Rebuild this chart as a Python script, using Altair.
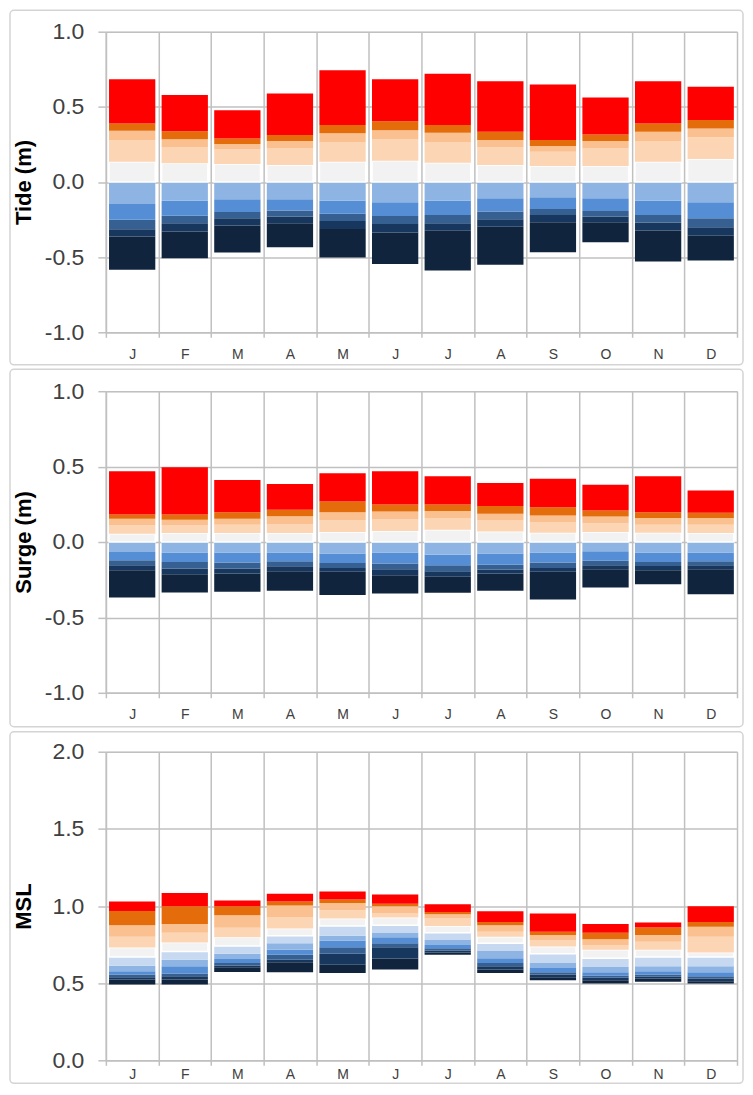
import altair as alt
import pandas as pd

MONTHS = ["J", "F", "M", "A", "M", "J", "J", "A", "S", "O", "N", "D"]

# colours of the 11 stacked bands, bottom to top
BAND_COLORS = ["#10243E", "#17375E", "#376092", "#558ED5", "#8EB4E3", "#C6D9F1",
               "#F2F2F2", "#FCD5B5", "#FAC090", "#E46C0A", "#FF0000"]

# band boundaries per month (12 values -> 11 bands), bottom to top
TIDE_BOUNDS = [
    [-0.584, -0.363, -0.314, -0.252, -0.146, 0, 0, 0.135, 0.279, 0.341, 0.390, 0.684],
    [-0.507, -0.330, -0.275, -0.224, -0.124, 0, 0, 0.124, 0.229, 0.284, 0.337, 0.578],
    [-0.469, -0.290, -0.241, -0.199, -0.115, 0, 0, 0.119, 0.217, 0.252, 0.289, 0.478],
    [-0.434, -0.275, -0.230, -0.190, -0.115, 0, 0, 0.113, 0.223, 0.272, 0.312, 0.589],
    [-0.502, -0.312, -0.259, -0.212, -0.124, 0, 0, 0.135, 0.262, 0.324, 0.379, 0.744],
    [-0.545, -0.336, -0.279, -0.226, -0.135, 0, 0, 0.142, 0.283, 0.345, 0.405, 0.684],
    [-0.589, -0.325, -0.275, -0.219, -0.124, 0, 0, 0.128, 0.262, 0.328, 0.379, 0.721],
    [-0.551, -0.297, -0.248, -0.197, -0.108, 0, 0, 0.113, 0.230, 0.279, 0.334, 0.671],
    [-0.467, -0.268, -0.219, -0.179, -0.102, 0, 0, 0.106, 0.201, 0.239, 0.279, 0.649],
    [-0.401, -0.268, -0.230, -0.193, -0.108, 0, 0, 0.106, 0.223, 0.272, 0.316, 0.562],
    [-0.529, -0.323, -0.270, -0.219, -0.124, 0, 0, 0.135, 0.272, 0.334, 0.390, 0.671],
    [-0.522, -0.358, -0.301, -0.241, -0.135, 0, 0, 0.153, 0.297, 0.356, 0.412, 0.633],
]

SURGE_BOUNDS = [
    [-0.368, -0.187, -0.154, -0.121, -0.066, 0, 0, 0.055, 0.110, 0.154, 0.183, 0.469],
    [-0.335, -0.214, -0.176, -0.132, -0.070, 0, 0, 0.059, 0.110, 0.147, 0.183, 0.496],
    [-0.330, -0.209, -0.176, -0.136, -0.070, 0, 0, 0.059, 0.114, 0.154, 0.198, 0.412],
    [-0.324, -0.194, -0.161, -0.128, -0.070, 0, 0, 0.059, 0.120, 0.171, 0.214, 0.385],
    [-0.352, -0.198, -0.172, -0.139, -0.077, 0, 0, 0.066, 0.143, 0.198, 0.268, 0.456],
    [-0.341, -0.220, -0.181, -0.143, -0.070, 0, 0, 0.073, 0.150, 0.203, 0.249, 0.469],
    [-0.337, -0.231, -0.194, -0.154, -0.084, 0, 0, 0.081, 0.159, 0.205, 0.249, 0.436],
    [-0.324, -0.209, -0.183, -0.150, -0.077, 0, 0, 0.070, 0.143, 0.187, 0.238, 0.392],
    [-0.381, -0.198, -0.172, -0.136, -0.070, 0, 0, 0.062, 0.132, 0.176, 0.231, 0.419],
    [-0.302, -0.181, -0.154, -0.125, -0.062, 0, 0, 0.066, 0.125, 0.169, 0.209, 0.379],
    [-0.280, -0.187, -0.159, -0.132, -0.070, 0, 0, 0.062, 0.114, 0.159, 0.198, 0.436],
    [-0.346, -0.181, -0.154, -0.128, -0.070, 0, 0, 0.059, 0.114, 0.159, 0.194, 0.341],
]

MSL_BOUNDS = [
    [0.492, 0.524, 0.538, 0.556, 0.577, 0.613, 0.669, 0.731, 0.801, 0.876, 0.968, 1.030],
    [0.492, 0.524, 0.545, 0.562, 0.609, 0.652, 0.705, 0.763, 0.827, 0.883, 0.998, 1.085],
    [0.573, 0.603, 0.615, 0.630, 0.656, 0.690, 0.741, 0.797, 0.859, 0.940, 0.998, 1.036],
    [0.571, 0.635, 0.652, 0.684, 0.716, 0.758, 0.808, 0.855, 0.929, 1.004, 1.030, 1.079],
    [0.566, 0.620, 0.690, 0.733, 0.776, 0.808, 0.870, 0.919, 0.972, 1.019, 1.043, 1.094],
    [0.588, 0.660, 0.733, 0.758, 0.797, 0.829, 0.876, 0.925, 0.951, 0.998, 1.015, 1.075],
    [0.684, 0.699, 0.712, 0.726, 0.748, 0.780, 0.827, 0.870, 0.919, 0.947, 0.962, 1.011],
    [0.566, 0.588, 0.609, 0.630, 0.662, 0.712, 0.758, 0.801, 0.833, 0.876, 0.897, 0.966],
    [0.519, 0.538, 0.556, 0.571, 0.598, 0.630, 0.690, 0.737, 0.780, 0.812, 0.833, 0.951],
    [0.498, 0.519, 0.535, 0.550, 0.571, 0.605, 0.662, 0.716, 0.748, 0.784, 0.827, 0.883],
    [0.509, 0.530, 0.541, 0.556, 0.577, 0.609, 0.669, 0.716, 0.769, 0.812, 0.861, 0.893],
    [0.498, 0.513, 0.528, 0.545, 0.571, 0.609, 0.669, 0.699, 0.801, 0.865, 0.897, 0.998],
]

Y_TICKS_TS = [-1.0, -0.5, 0.0, 0.5, 1.0]
Y_TICKS_MSL = [0.0, 0.5, 1.0, 1.5, 2.0]

FONT = "Liberation Sans"
GRID = "#C0C0C0"
PLOT_W = 632


def segments(bounds):
    rows = []
    for m, b in enumerate(bounds):
        for k in range(len(b) - 1):
            if b[k + 1] > b[k]:
                rows.append({"month": m, "band": k, "lo": b[k], "hi": b[k + 1]})
    return pd.DataFrame(rows)


MONTH_EXPR = "[" + ",".join("'%s'" % m for m in MONTHS) + "][datum.value]"
Y_EXPR = "replace(format(datum.value, '.1f'), '\u2212', '-')"


def panel(bounds, title, ticks, h, top_gap, bottom_gap, title_pad, xlabel_pad):
    df = segments(bounds)
    bars = alt.Chart(df).mark_bar(width=alt.RelativeBandSize(0.88), strokeWidth=1.5).encode(
        x=alt.X("month:O",
                scale=alt.Scale(paddingInner=0, paddingOuter=0),
                axis=alt.Axis(title=None, labelExpr=MONTH_EXPR, labelAngle=0,
                              tickBand="extent", grid=True, gridColor=GRID, gridWidth=1.5,
                              domainColor=GRID, domainWidth=1.5, tickColor=GRID,
                              tickWidth=1.5, tickSize=5, labelPadding=xlabel_pad,
                              labelFont=FONT, labelFontSize=14, labelColor="#404040")),
        y=alt.Y("lo:Q",
                scale=alt.Scale(domain=[ticks[0], ticks[-1]], nice=False, zero=False),
                axis=alt.Axis(title=title, values=ticks, labelExpr=Y_EXPR, grid=True,
                              gridColor=GRID, gridWidth=1.5, domainColor=GRID,
                              domainWidth=1.5, tickColor=GRID, tickWidth=1.5, tickSize=8,
                              labelPadding=14, labelFont=FONT, labelFontSize=23,
                              labelColor="#404040", titleFont=FONT, titleFontSize=22,
                              titleFontWeight="bold", titleColor="#000000",
                              titlePadding=title_pad)),
        y2="hi:Q",
        color=alt.Color("band:O", scale=alt.Scale(domain=list(range(11)), range=BAND_COLORS),
                        legend=None),
        stroke=alt.condition(alt.datum.band == 6, alt.value("#FFFFFF"), alt.value("transparent")),
    )
    frame = alt.Chart(pd.DataFrame({"k": [0]})).mark_rect(
        fill="transparent", stroke="#D4D4D4", strokeWidth=1.5, cornerRadius=4
    ).encode(
        x=alt.value(-96), x2=alt.value(PLOT_W + 6),
        y=alt.value(-top_gap), y2=alt.value(h + bottom_gap),
    )
    return alt.layer(bars, frame).properties(width=PLOT_W, height=h)


p1 = panel(TIDE_BOUNDS, "Tide (m)", Y_TICKS_TS, 301, 21.4, 32.6, 9, 10)
p2 = panel(SURGE_BOUNDS, "Surge (m)", Y_TICKS_TS, 302, 22, 34, 9, 10)
p3 = panel(MSL_BOUNDS, "MSL", Y_TICKS_MSL, 309, 20, 23, 16, 2)

chart = alt.vconcat(p1, p2, p3, spacing=1).properties(
    padding={"left": 0, "top": 0, "right": 0, "bottom": 0}
).configure_view(strokeWidth=0).configure(font=FONT)

chart.save("out.html", embed_options={"renderer": "svg", "actions": False})
